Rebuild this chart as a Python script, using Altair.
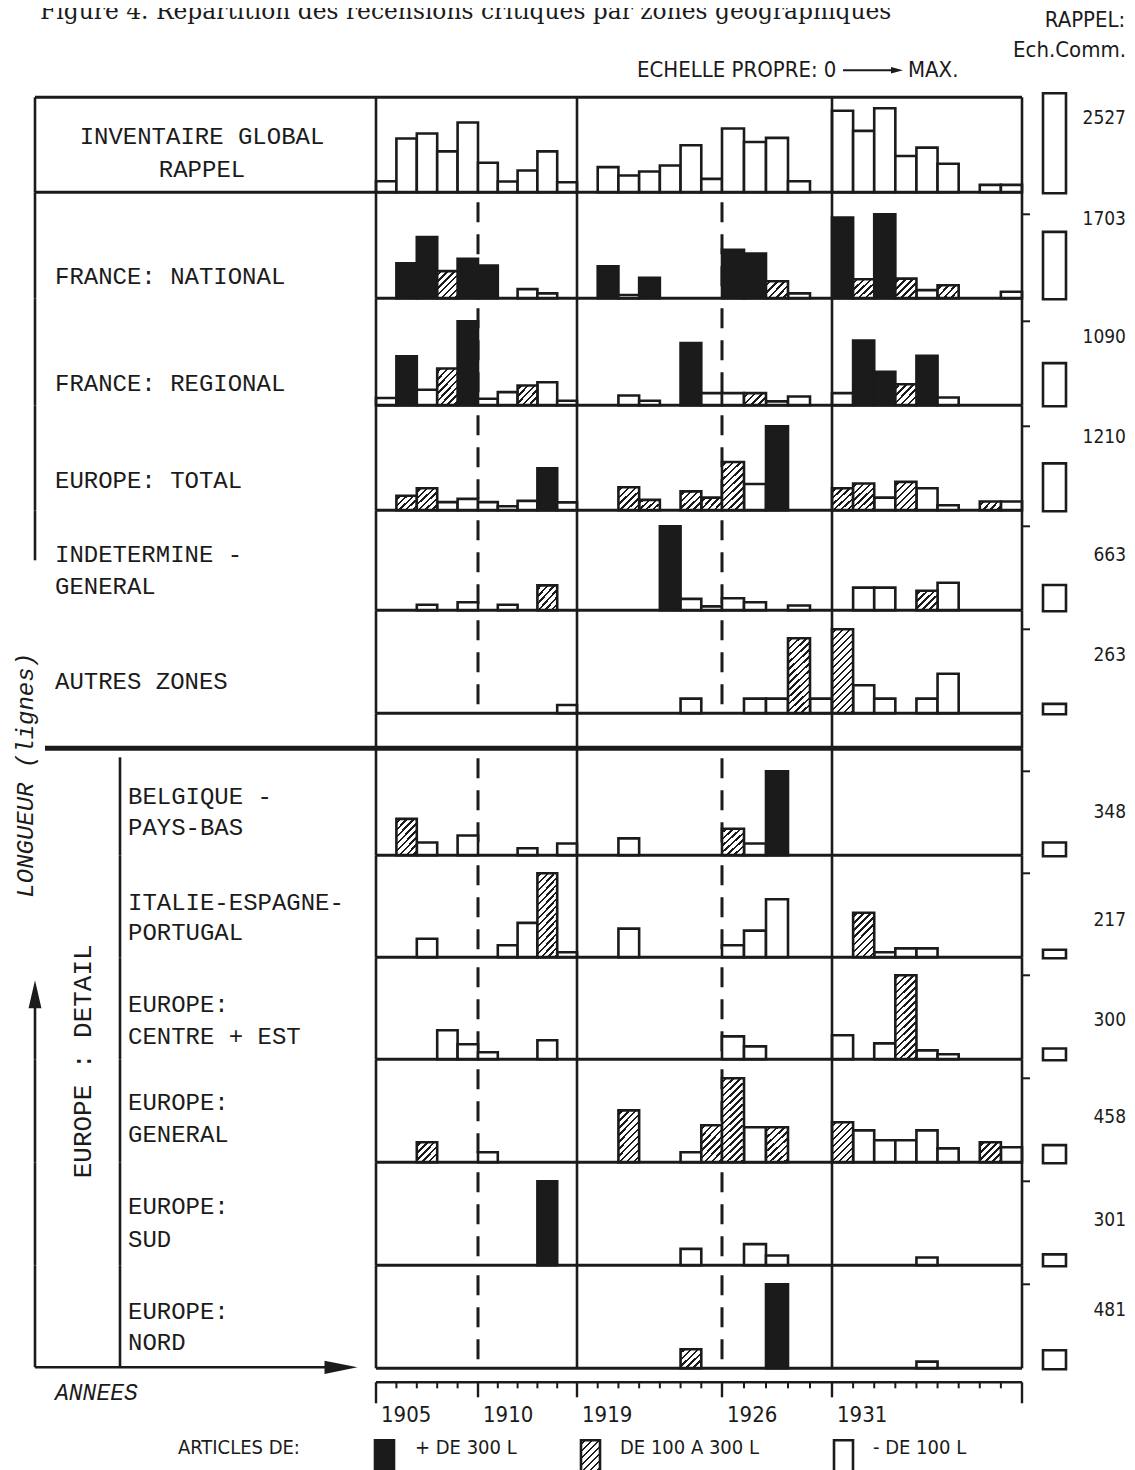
import altair as alt
import pandas as pd

# ---------------------------------------------------------------- data
TITLE = "Figure 4. Répartition des recensions critiques par zones géographiques"
YEARS = list(range(1905, 1915)) + list(range(1919, 1940))          # 31 year bins
LABEL_YEARS = [1905, 1910, 1919, 1926, 1931]
MAJOR_TICK_YEARS = [1910, 1919, 1926, 1931]
END_TICK_YEARS = [1905, 1940]
PERIOD_BREAKS = [1919, 1931]
DASHED_YEARS = [1910, 1926]

ROW_LABELS = [
    ["INVENTAIRE GLOBAL", "RAPPEL"],
    ["FRANCE: NATIONAL"],
    ["FRANCE: REGIONAL"],
    ["EUROPE: TOTAL"],
    ["INDETERMINE -", "GENERAL"],
    ["AUTRES ZONES"],
    ["BELGIQUE -", "PAYS-BAS"],
    ["ITALIE-ESPAGNE-", "PORTUGAL"],
    ["EUROPE:", "CENTRE + EST"],
    ["EUROPE:", "GENERAL"],
    ["EUROPE:", "SUD"],
    ["EUROPE:", "NORD"],
]
RAPPEL = [2527, 1703, 1090, 1210, 663, 263, 348, 217, 300, 458, 301, 481]

# values (lines) per year bin; category: B = + de 300 L, H = de 100 a 300 L, W = - de 100 L
V_INVENTAIRE = [333, 1617, 1768, 1232, 2101, 889, 323, 657, 1232, 303,
                0, 758, 505, 626, 808, 1414, 404, 1919, 1515, 1636, 333, 0,
                2454, 1848, 2527, 1091, 1343, 859, 0, 222, 222]
C_INVENTAIRE = "WWWWWWWWWW" ".WWWWWWWWWW." "WWWWWW.WW"
V_FR_NAT = [0, 709, 1240, 550, 802, 663, 0, 186, 99, 0,
            0, 650, 66, 418, 0, 0, 0, 981, 908, 345, 99, 0,
            1638, 385, 1703, 398, 166, 265, 0, 0, 133]
C_FR_NAT = ".BBHBB.WW." ".BWB...BBHW." "BHBHWH..W"
V_FR_REG = [94, 636, 201, 478, 1090, 85, 171, 256, 299, 60,
            0, 0, 128, 60, 0, 807, 158, 158, 158, 51, 115, 0,
            158, 841, 436, 273, 641, 102, 0, 0, 0]
C_FR_REG = "WBWHBWWHWW" "..WW.BWWHWW." "WBBHBW..."
V_EUR_TOT = [0, 209, 318, 118, 164, 118, 59, 136, 605, 114,
             0, 0, 332, 150, 0, 273, 182, 696, 378, 1210, 0, 0,
             318, 387, 182, 410, 318, 73, 0, 127, 127]
C_EUR_TOT = ".HHWWWWWBW" "..HH.HHHWB.." "HHWHWW.HW"
V_INDET = [0, 0, 44, 0, 64, 0, 44, 0, 197, 0,
           0, 0, 0, 0, 663, 90, 31, 95, 64, 0, 38, 0,
           0, 179, 179, 0, 154, 218, 0, 0, 0]
C_INDET = "..W.W.W.H." "....BWWWW.W." ".WW.HW..."
V_AUTRES = [0, 0, 0, 0, 0, 0, 0, 0, 0, 26,
            0, 0, 0, 0, 0, 46, 0, 0, 46, 46, 235, 46,
            263, 88, 46, 0, 46, 124, 0, 0, 0]
C_AUTRES = ".........W" ".....W..WWHW" "HWW.WW..."
V_BELG = [0, 151, 53, 0, 82, 0, 0, 29, 0, 49,
          0, 0, 70, 0, 0, 0, 0, 110, 49, 348, 0, 0,
          0, 0, 0, 0, 0, 0, 0, 0, 0]
C_BELG = ".HW.W..W.W" "..W....HWB.." "........."
V_ITAL = [0, 0, 48, 0, 0, 0, 31, 89, 217, 13,
          0, 0, 74, 0, 0, 0, 0, 31, 69, 150, 0, 0,
          0, 115, 13, 23, 23, 0, 0, 0, 0]
C_ITAL = "..W...WWHW" "..W....WWW.." ".HWWW...."
V_CENTRE = [0, 0, 0, 104, 54, 25, 0, 0, 68, 0,
            0, 0, 0, 0, 0, 0, 0, 82, 46, 0, 0, 0,
            86, 0, 57, 300, 32, 18, 0, 0, 0]
C_CENTRE = "...WWW..W." ".......WW..." "W.WHWW..."
V_EUR_GEN = [0, 0, 109, 0, 0, 55, 0, 0, 0, 0,
             0, 0, 283, 0, 0, 55, 202, 458, 191, 191, 0, 0,
             218, 174, 120, 120, 174, 76, 0, 109, 82]
C_EUR_GEN = "..H..W...." "..H..WHHWH.." "HWWWWW.HW"
V_SUD = [0, 0, 0, 0, 0, 0, 0, 0, 301, 0,
         0, 0, 0, 0, 0, 59, 0, 0, 76, 35, 0, 0,
         0, 0, 0, 0, 28, 0, 0, 0, 0]
C_SUD = "........B." ".....W..WW.." "....W...."
V_NORD = [0, 0, 0, 0, 0, 0, 0, 0, 0, 0,
          0, 0, 0, 0, 0, 109, 0, 0, 0, 481, 0, 0,
          0, 0, 0, 0, 38, 0, 0, 0, 0]
C_NORD = ".........." ".....H...B.." "....W...."

ROW_VALUES = [V_INVENTAIRE, V_FR_NAT, V_FR_REG, V_EUR_TOT, V_INDET, V_AUTRES,
              V_BELG, V_ITAL, V_CENTRE, V_EUR_GEN, V_SUD, V_NORD]
ROW_CATS = [C_INVENTAIRE, C_FR_NAT, C_FR_REG, C_EUR_TOT, C_INDET, C_AUTRES,
            C_BELG, C_ITAL, C_CENTRE, C_EUR_GEN, C_SUD, C_NORD]

LEGEND_LABELS = ["+ DE 300 L", "DE 100 A 300 L", "- DE 100 L"]
LEGEND_CATS = ["B", "H", "W"]

# ---------------------------------------------------------------- layout / style
INK = "#1b1b1b"
SW = 2.6
MONO = "Liberation Mono, Courier New, monospace"
NARROW = "Liberation Sans Narrow, DejaVu Sans Condensed, Arial Narrow, sans-serif"
SERIF = "DejaVu Serif, serif"
TITLE_SIZE = 23.4
PW = 646
BAR_MAX_PX = 84
ROW_H = [95, 106, 107, 105, 100, 103, 107, 102, 102, 103, 103, 103]
LABEL_X = [-174, -321, -321, -321, -321, -321, -248, -248, -248, -248, -248, -248]
LABEL_Y = [[40, 73], [85], [86], [76], [45, 77], [72],
           [49, 80], [48, 78], [48, 80], [44, 76], [45, 78], [47, 78]]
RAPPEL_Y = [21, 27, 39, 32, 45, 45, 64, 65, 63, 58, 58, 45]
RAPPEL_BOX_X = 667
RIGHT_TEXT_X = 750
LEGEND_X = [-1, 205, 458]
LEGEND_TX = [39, 244, 497]

XS = alt.Scale(domain=[1905, 1910, 1915, 1919, 1926, 1931, 1940],
               range=[0, 102, 201, 201, 346, 456, PW], nice=False, zero=False)
ONE = pd.DataFrame({"k": [0]})


def X():
    return alt.X("year:Q", scale=XS, axis=None)


def hatch_gradient(h, w=21.0, period=7.0, dark=0.36):
    h = max(float(h), 4.0)
    c = (w + h) / (w * w + h * h)
    n = (w + h) / period
    stops = [alt.GradientStop(offset=0, color="#ffffff")]
    k = 0
    while True:
        s = (k + 0.4) / n
        if s >= 1:
            break
        e = min((k + 0.4 + dark) / n, 1.0)
        stops += [alt.GradientStop(offset=round(s, 4), color="#ffffff"),
                  alt.GradientStop(offset=round(s, 4), color=INK),
                  alt.GradientStop(offset=round(e, 4), color=INK),
                  alt.GradientStop(offset=round(e, 4), color="#ffffff")]
        k += 1
    stops.append(alt.GradientStop(offset=1, color="#ffffff"))
    return alt.LinearGradient(gradient="linear", stops=stops, x1=0, y1=0,
                              x2=round(w * c, 4), y2=round(h * c, 4))


def hrule(y, x1, x2, w=SW):
    return alt.Chart(ONE).mark_rule(color=INK, strokeWidth=w).encode(
        x=alt.value(x1), x2=alt.value(x2), y=alt.value(y))


def vrule(x, y1, y2, w=SW):
    return alt.Chart(ONE).mark_rule(color=INK, strokeWidth=w).encode(
        x=alt.value(x), y=alt.value(y1), y2=alt.value(y2))


def txt(t, x, y, size, font, align="left", baseline="middle", angle=None, italic=False):
    kw = dict(text=t, align=align, baseline=baseline, font=font, fontSize=size, color=INK)
    if angle is not None:
        kw["angle"] = angle
    if italic:
        kw["fontStyle"] = "italic"
    return alt.Chart(ONE).mark_text(**kw).encode(x=alt.value(x), y=alt.value(y))


def arrowhead(x, y, path, size):
    return alt.Chart(ONE).mark_point(shape=path, filled=True, size=size, color=INK,
                                     opacity=1, strokeWidth=0).encode(
        x=alt.value(x), y=alt.value(y))


def frame(H):
    return [vrule(0, 0, H), vrule(PW, 0, H),
            alt.Chart(pd.DataFrame({"year": PERIOD_BREAKS})).mark_rule(
                color=INK, strokeWidth=SW).encode(x=X(), y=alt.value(0), y2=alt.value(H))]


def row_chart(r):
    H = ROW_H[r]
    mx = RAPPEL[r]

    def ys():
        return alt.Scale(domain=[0, mx], range=[H, H - BAR_MAX_PX], nice=False, zero=False)

    df = pd.DataFrame({"year": YEARS, "value": ROW_VALUES[r], "cat": list(ROW_CATS[r])})
    df = df[df["cat"] != "."]
    layers = []
    if r > 0:
        layers.append(alt.Chart(pd.DataFrame({"year": DASHED_YEARS})).mark_rule(
            color=INK, strokeWidth=3, strokeDash=[20, 12]).encode(
            x=X(), y=alt.value(10), y2=alt.value(H)))
    solid = df[df["cat"].isin(["B", "W"])]
    if len(solid):
        layers.append(alt.Chart(solid).transform_calculate(year_end="datum.year + 1").mark_rect(
            stroke=INK, strokeWidth=SW).encode(
            x=X(), x2="year_end:Q",
            y=alt.Y("value:Q", scale=ys(), axis=None), y2=alt.datum(0),
            fill=alt.Fill("cat:N", scale=alt.Scale(domain=["B", "W"], range=[INK, "#ffffff"]),
                          legend=None)))
    hat = df[df["cat"] == "H"].copy()
    if len(hat):
        hat["hc"] = [max(4, round(v / mx * BAR_MAX_PX / 4) * 4) for v in hat["value"]]
        for hc, sub in hat.groupby("hc"):
            layers.append(alt.Chart(sub[["year", "value"]]).transform_calculate(
                year_end="datum.year + 1").mark_rect(
                fill=hatch_gradient(hc), stroke=INK, strokeWidth=SW).encode(
                x=X(), x2="year_end:Q",
                y=alt.Y("value:Q", scale=ys(), axis=None), y2=alt.datum(0)))
    if r > 0:
        layers.append(alt.Chart(pd.DataFrame({"m": [mx]})).mark_rule(
            color=INK, strokeWidth=2).encode(
            y=alt.Y("m:Q", scale=ys(), axis=None), x=alt.value(PW), x2=alt.value(PW + 8)))
    layers += frame(H)
    layers.append(hrule(H, -341 if r == 0 else 0, PW, 3))
    if r == 0:
        layers.append(hrule(0, -341, PW, 3))
    # label column
    align = "center" if r == 0 else "left"
    for line, y in zip(ROW_LABELS[r], LABEL_Y[r]):
        layers.append(txt(line, LABEL_X[r], y, 24, MONO, align=align))
    if r <= 3:
        layers.append(vrule(-341, 0, H))
    if r == 4:
        layers.append(vrule(-341, 0, 50))
    if r == 6:
        layers.append(vrule(-256, 9, H))
        layers.append(txt("LONGUEUR (lignes)", -343, 27, 24, MONO, align="center",
                          baseline="alphabetic", angle=270, italic=True))
    if 7 <= r <= 10:
        layers.append(vrule(-256, 0, H))
    if r == 11:
        layers.append(vrule(-256, 0, 102))
    if r == 8:
        layers.append(vrule(-341, 40, H))
        layers.append(arrowhead(-341, 37, "M0,-1L0.46,1L-0.46,1Z", 784))
    if r in (9, 10):
        layers.append(vrule(-341, 0, H))
    if r == 9:
        layers.append(txt("EUROPE  :  DETAIL", -285, 2, 26, MONO, align="center",
                          baseline="alphabetic", angle=270))
    if r == 11:
        layers.append(vrule(-341, 0, 102))
        layers.append(hrule(102, -341, -40))
        layers.append(arrowhead(-35, 102, "M1,0L-1,0.4L-1,-0.4Z", 1089))

    # common-scale reminder box and row maximum
    rs = alt.Scale(domain=[0, RAPPEL[0]], range=[H + 1, H + 1 - 100], nice=False, zero=False)
    rd = pd.DataFrame({"rappel": [RAPPEL[r]]})
    layers.append(alt.Chart(rd).mark_rect(fill="#ffffff", stroke=INK, strokeWidth=SW).encode(
        x=alt.value(RAPPEL_BOX_X), x2=alt.value(RAPPEL_BOX_X + 23),
        y=alt.Y("rappel:Q", scale=rs, axis=None), y2=alt.datum(0)))
    layers.append(alt.Chart(rd).mark_text(align="right", baseline="middle", font=NARROW,
                                          fontSize=19, color=INK).encode(
        x=alt.value(RIGHT_TEXT_X), y=alt.value(RAPPEL_Y[r]),
        text=alt.Text("rappel:Q", format="d")))
    return alt.layer(*layers).resolve_scale(y="independent").properties(width=PW, height=H)


# header
header = alt.layer(
    alt.Chart(ONE).mark_rule(strokeOpacity=0, strokeWidth=0).encode(
        x=alt.value(-368), y=alt.value(20), y2=alt.value(21)),
    txt(TITLE, -336, 11, TITLE_SIZE, SERIF, baseline="alphabetic"),
    txt("RAPPEL:", 709, 12, 22, NARROW, align="center"),
    txt("Ech.Comm.", RIGHT_TEXT_X, 42, 22, NARROW, align="right"),
    txt("ECHELLE PROPRE: 0", 261, 62, 22, NARROW),
    hrule(62, 467, 517, 2),
    arrowhead(521, 62, "M1,0L-1,0.55L-1,-0.55Z", 144),
    txt("MAX.", 532, 62, 22, NARROW),
).properties(width=PW, height=89)

# gap between upper block and Europe detail (thick separator)
spacer = alt.layer(*(frame(35) + [hrule(35, -331, PW, 5)])).properties(width=PW, height=35)

# bottom axis + legend
AXH = 104
minor = [y for y in YEARS[1:] if y not in MAJOR_TICK_YEARS]
axis_layers = [
    hrule(14, 0, PW),
    alt.Chart(pd.DataFrame({"year": minor})).mark_rule(color=INK, strokeWidth=2).encode(
        x=X(), y=alt.value(14), y2=alt.value(20)),
    alt.Chart(pd.DataFrame({"year": MAJOR_TICK_YEARS})).mark_rule(color=INK, strokeWidth=2.4).encode(
        x=X(), y=alt.value(14), y2=alt.value(29)),
    alt.Chart(pd.DataFrame({"year": END_TICK_YEARS})).mark_rule(color=INK, strokeWidth=2.4).encode(
        x=X(), y=alt.value(14), y2=alt.value(35)),
    alt.Chart(pd.DataFrame({"year": LABEL_YEARS})).mark_text(
        align="left", baseline="middle", dx=5, font=NARROW, fontSize=22, color=INK).encode(
        x=X(), y=alt.value(47), text=alt.Text("year:Q", format="d")),
    txt("ANNEES", -321, 25, 23, MONO, italic=True),
    txt("ARTICLES DE:", -198, 80, 20, NARROW),
]
for cat, lab, lx, tx in zip(LEGEND_CATS, LEGEND_LABELS, LEGEND_X, LEGEND_TX):
    fill = hatch_gradient(32, w=19) if cat == "H" else (INK if cat == "B" else "#ffffff")
    axis_layers.append(alt.Chart(ONE).mark_rect(fill=fill, stroke=INK, strokeWidth=SW).encode(
        x=alt.value(lx), x2=alt.value(lx + 19), y=alt.value(72), y2=alt.value(AXH)))
    axis_layers.append(txt(lab, tx, 80, 20, NARROW))
axis_panel = alt.layer(*axis_layers).properties(width=PW, height=AXH)

rows = [row_chart(r) for r in range(12)]
chart = alt.vconcat(header, *rows[:6], spacer, *rows[6:], axis_panel,
                    spacing=0, bounds="flush").properties(
    padding={"left": 0, "top": -7.7, "right": 0, "bottom": 0}
).configure_view(stroke=None)

chart.save("out.html", embed_options={"renderer": "svg", "actions": False})
